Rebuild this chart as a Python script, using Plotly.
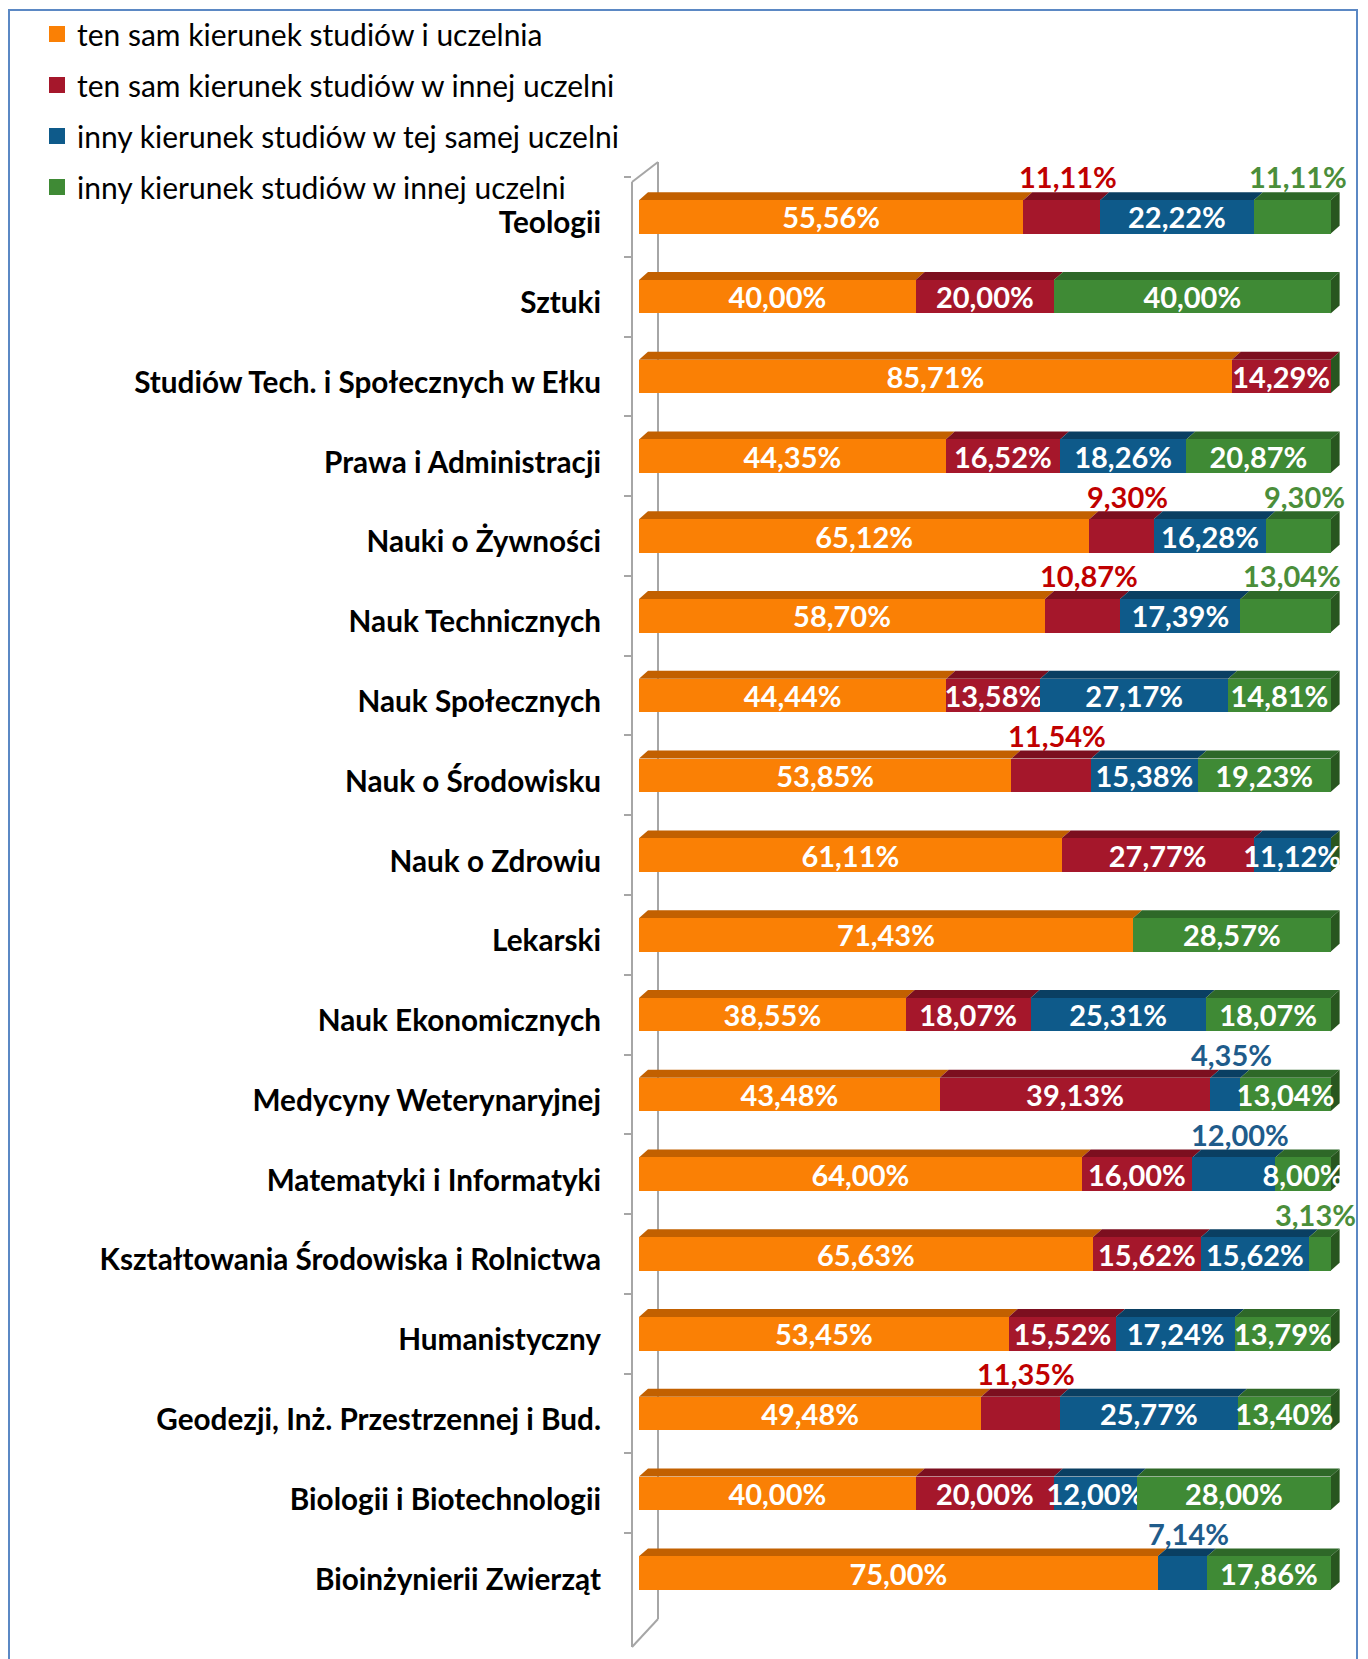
import plotly.graph_objects as go

# ---------------- data ----------------
categories = [
    "Teologii",
    "Sztuki",
    "Studiów Tech. i Społecznych w Ełku",
    "Prawa i Administracji",
    "Nauki o Żywności",
    "Nauk Technicznych",
    "Nauk Społecznych",
    "Nauk o Środowisku",
    "Nauk o Zdrowiu",
    "Lekarski",
    "Nauk Ekonomicznych",
    "Medycyny Weterynaryjnej",
    "Matematyki i Informatyki",
    "Kształtowania Środowiska i Rolnictwa",
    "Humanistyczny",
    "Geodezji, Inż. Przestrzennej i Bud.",
    "Biologii i Biotechnologii",
    "Bioinżynierii Zwierząt",
]

same_field_same_uni = [55.56, 40.00, 85.71, 44.35, 65.12, 58.70, 44.44, 53.85, 61.11,
                       71.43, 38.55, 43.48, 64.00, 65.63, 53.45, 49.48, 40.00, 75.00]
same_field_other_uni = [11.11, 20.00, 14.29, 16.52, 9.30, 10.87, 13.58, 11.54, 27.77,
                        0, 18.07, 39.13, 16.00, 15.62, 15.52, 11.35, 20.00, 0]
other_field_same_uni = [22.22, 0, 0, 18.26, 16.28, 17.39, 27.17, 15.38, 11.12,
                        0, 25.31, 4.35, 12.00, 15.62, 17.24, 25.77, 12.00, 7.14]
other_field_other_uni = [11.11, 40.00, 0, 20.87, 9.30, 13.04, 14.81, 19.23, 0,
                         28.57, 18.07, 13.04, 8.00, 3.13, 13.79, 13.40, 28.00, 17.86]

series_names = [
    "ten sam kierunek studiów i uczelnia",
    "ten sam kierunek studiów w innej uczelni",
    "inny kierunek studiów w tej samej uczelni",
    "inny kierunek studiów w innej uczelni",
]

# labels drawn above the bar instead of inside: (category, series index)
labels_above = [
    ("Teologii", 1), ("Teologii", 3),
    ("Nauki o Żywności", 1), ("Nauki o Żywności", 3),
    ("Nauk Technicznych", 1), ("Nauk Technicznych", 3),
    ("Nauk o Środowisku", 1),
    ("Medycyny Weterynaryjnej", 2),
    ("Matematyki i Informatyki", 2),
    ("Kształtowania Środowiska i Rolnictwa", 3),
    ("Geodezji, Inż. Przestrzennej i Bud.", 1),
    ("Bioinżynierii Zwierząt", 2),
]

# ---------------- style ----------------
front_colors = ["#FA8005", "#A5172B", "#0E5A8A", "#3F8A35"]
top_colors = ["#C26000", "#7C0F1F", "#0A3F62", "#2E6828"]
side_color = "#28561F"
above_label_colors = ["#E07000", "#C00000", "#1F5C8B", "#4B8E3A"]
FONT = "Lato"
FS = 29

W, H = 1360, 1651                # page body margin of 8px is added by the browser
PL, PR, PT, PB = 624, 1333, 169, 1605      # plot area in figure px
XMIN, XMAX = -1.01, 101.5
BAR_W = 0.42
DX = 1.3      # 3D depth in x units
DY = 0.10     # 3D depth in category units


def px_to_paper_x(px):
    return (px - PL) / (PR - PL)


def px_to_paper_y(py):
    return (PB - py) / (PB - PT)


def fmt(v):
    return f"{v:.2f}".replace(".", ",") + "%"


series = [same_field_same_uni, same_field_other_uni, other_field_same_uni, other_field_other_uni]
above_set = set(labels_above)

fig = go.Figure()
for s, (name, vals) in enumerate(zip(series_names, series)):
    texts = []
    for c, v in zip(categories, vals):
        if v <= 0 or (c, s) in above_set:
            texts.append("")
        else:
            texts.append(fmt(v))
    fig.add_trace(go.Bar(
        y=categories, x=vals, name=name, orientation="h",
        marker=dict(color=front_colors[s], line=dict(width=0)),
        text=texts, textposition="inside", insidetextanchor="middle",
        textangle=0, cliponaxis=False,
        textfont=dict(family=FONT, size=FS, color="white", weight="bold"),
        legendgroup=f"g{s}", showlegend=False, hoverinfo="skip",
        width=BAR_W,
    ))
    # legend entry with a larger square swatch
    fig.add_trace(go.Scatter(
        x=[None], y=[None], mode="markers", name=name, legendgroup=f"g{s}",
        marker=dict(symbol="square", size=18, color=front_colors[s], line=dict(width=0)),
        hoverinfo="skip",
    ))

shapes = []
annotations = []
# 3D top faces and side faces computed from the data
for i, c in enumerate(categories):
    cum = 0.0
    ytop = i - BAR_W / 2
    ybot = i + BAR_W / 2
    for s, vals in enumerate(series):
        v = vals[i]
        x0, x1 = cum, cum + v
        if v > 0:
            shapes.append(dict(
                type="path", xref="x", yref="y", layer="below",
                path=f"M {x0},{ytop} L {x1},{ytop} L {x1 + DX},{ytop - DY} L {x0 + DX},{ytop - DY} Z",
                fillcolor=top_colors[s], line=dict(width=0),
            ))
            if (c, s) in above_set:
                xc = min((x0 + x1) / 2, 97)
                annotations.append(dict(
                    x=xc, y=c, xref="x", yref="y", text=fmt(v), showarrow=False,
                    yshift=40, xshift=6,
                    font=dict(family=FONT, size=FS, color=above_label_colors[s], weight="bold"),
                ))
        cum = x1
    shapes.append(dict(
        type="path", xref="x", yref="y", layer="below",
        path=f"M {cum},{ytop} L {cum},{ybot} L {cum + DX},{ybot - DY} L {cum + DX},{ytop - DY} Z",
        fillcolor=side_color, line=dict(width=0),
    ))

# wall of the category axis
wall = "#A6A6A6"
lx, rx = px_to_paper_x(624), px_to_paper_x(650)
ly_top, ly_bot = px_to_paper_y(174), px_to_paper_y(1639)
ry_top, ry_bot = px_to_paper_y(154), px_to_paper_y(1611)
for (xa, ya, xb, yb) in [(lx, ly_top, lx, ly_bot), (rx, ry_top, rx, ry_bot),
                         (lx, ly_top, rx, ry_top), (lx, ly_bot, rx, ry_bot)]:
    shapes.append(dict(type="line", xref="paper", yref="paper", x0=xa, y0=ya, x1=xb, y1=yb,
                       line=dict(color=wall, width=2), layer="below"))

# outer border
shapes.append(dict(type="rect", xref="paper", yref="paper",
                   x0=px_to_paper_x(1), x1=px_to_paper_x(1349),
                   y0=px_to_paper_y(1665), y1=px_to_paper_y(2),
                   line=dict(color="#5B88C4", width=2), fillcolor="rgba(0,0,0,0)"))

fig.update_layout(
    width=W, height=H,
    barmode="stack",
    bargap=0.58,
    paper_bgcolor="white", plot_bgcolor="white",
    margin=dict(l=PL, r=W - PR, t=PT, b=H - PB, pad=0, autoexpand=False),
    uniformtext=dict(minsize=FS, mode="show"),
    xaxis=dict(range=[XMIN, XMAX], visible=False, showgrid=False, zeroline=False, fixedrange=True),
    yaxis=dict(
        type="category", categoryorder="array", categoryarray=categories,
        autorange=False, range=[len(categories) - 0.5, -0.5],
        showgrid=False, zeroline=False, showline=False,
        ticks="outside", ticklen=7, tickwidth=2, tickcolor=wall, tickson="boundaries",
        tickfont=dict(family=FONT, size=29.7, color="black", weight="bold"),
        ticklabelstandoff=30, ticklabelshift=-6,
    ),
    legend=dict(
        x=px_to_paper_x(29), y=px_to_paper_y(0), xanchor="left", yanchor="top",
        orientation="v", traceorder="grouped", tracegroupgap=9,
        font=dict(family=FONT, size=30, color="black"),
        bgcolor="rgba(0,0,0,0)",
    ),
    shapes=shapes,
    annotations=annotations,
    showlegend=True,
)

fig.write_html("out.html")
